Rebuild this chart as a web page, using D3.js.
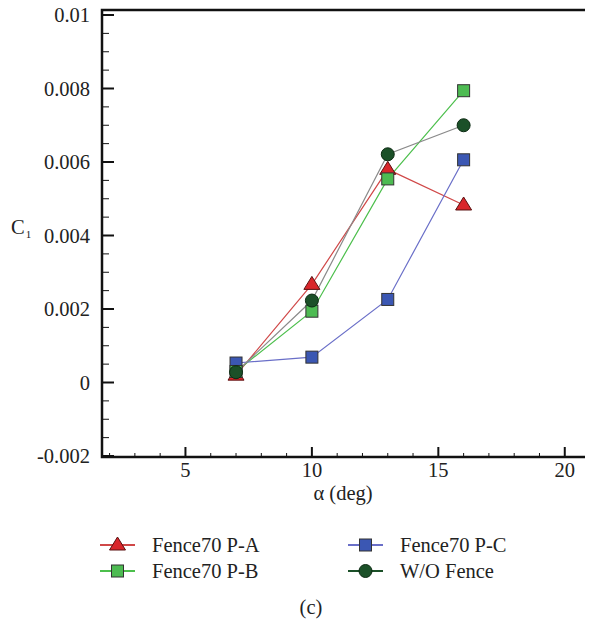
<!DOCTYPE html>
<html><head><meta charset="utf-8">
<script src="https://cdn.jsdelivr.net/npm/d3@7"></script>
<style>body{margin:0;background:#fff}svg{display:block}text{font-family:"Liberation Serif","DejaVu Serif",serif;fill:#222}</style>
</head><body>
<script>
const alpha = [7, 10, 13, 16];
const seriesNames = ["Fence70 P-A", "Fence70 P-B", "Fence70 P-C", "W/O Fence"];
const valuesPA = [0.00020, 0.00267, 0.00580, 0.00483];
const valuesPB = [0.00030, 0.00194, 0.00554, 0.00794];
const valuesPC = [0.00053, 0.00069, 0.00226, 0.00606];
const valuesWO = [0.00028, 0.00223, 0.00621, 0.00700];
const xTicks = [5, 10, 15, 20];
const yTicks = [-0.002, 0, 0.002, 0.004, 0.006, 0.008, 0.01];
const yTickLabels = ["-0.002", "0", "0.002", "0.004", "0.006", "0.008", "0.01"];

const W = 589, H = 625;
const FS = 20.5;
const svg = d3.select("body").append("svg").attr("width", W).attr("height", H);
const x = d3.scaleLinear().domain([1.7, 20.8]).range([102, 585]);
const y = d3.scaleLinear().domain([-0.002, 0.01]).range([456, 15]);

const series = [
  {name: seriesNames[0], vals: valuesPA, line: "#d04848", fill: "#d9262b", shape: "tri"},
  {name: seriesNames[1], vals: valuesPB, line: "#4cbf4c", fill: "#4dbb52", shape: "sq"},
  {name: seriesNames[2], vals: valuesPC, line: "#6a6fc8", fill: "#3b57b3", shape: "sq"},
  {name: seriesNames[3], vals: valuesWO, line: "#8a8a8a", fill: "#1b5028", shape: "circ"}
];

const g = svg.append("g");
const xMinor = d3.range(2, 21, 1);
g.selectAll(".xm").data(xMinor).enter().append("line")
  .attr("x1", d => x(d)).attr("x2", d => x(d))
  .attr("y1", 457).attr("y2", d => d % 5 === 0 ? 447 : 453)
  .attr("stroke", "#111").attr("stroke-width", d => d % 5 === 0 ? 2 : 1);
const yMinor = d3.range(-0.002, 0.01001, 0.0005);
const isMajor = d => Math.abs(Math.round(d / 0.002) * 0.002 - d) < 1e-9;
g.selectAll(".ym").data(yMinor).enter().append("line")
  .attr("x1", 102).attr("x2", d => isMajor(d) ? 114 : 109)
  .attr("y1", d => y(d)).attr("y2", d => y(d))
  .attr("stroke", "#111").attr("stroke-width", d => isMajor(d) ? 2 : 1);

g.append("path").attr("d", `M${W-4},10 H102 V457 H${W-4}`)
  .attr("fill", "none").attr("stroke", "#111").attr("stroke-width", 2.5);

g.selectAll(".xt").data(xTicks).enter().append("text")
  .attr("x", d => x(d)).attr("y", 477).attr("text-anchor", "middle")
  .attr("font-size", FS).text(d => d);
g.selectAll(".yt").data(yTicks).enter().append("text")
  .attr("x", 90).attr("y", d => y(d) + 7).attr("text-anchor", "end")
  .attr("font-size", FS).text((d, i) => yTickLabels[i]);

g.append("text").attr("x", 343).attr("y", 500).attr("text-anchor", "middle")
  .attr("font-size", FS).text("α (deg)");
const cl = g.append("text").attr("x", 11).attr("y", 234).attr("font-size", FS);
cl.append("tspan").text("C");
cl.append("tspan").attr("font-size", 11).attr("dy", 4).attr("dx", 1).text("1");

const line = d3.line().x((d, i) => x(alpha[i])).y(d => y(d));
series.forEach(s => {
  svg.append("path").attr("d", line(s.vals)).attr("fill", "none")
    .attr("stroke", s.line).attr("stroke-width", 1.2);
});

function marker(sel, shape, fill, cx, cy) {
  if (shape === "tri") {
    sel.append("path").attr("d", `M${cx},${cy-8} L${cx+8},${cy+5} L${cx-8},${cy+5} Z`)
      .attr("fill", fill).attr("stroke", "#5a1010").attr("stroke-width", 1);
  } else if (shape === "sq") {
    sel.append("rect").attr("x", cx - 6).attr("y", cy - 6).attr("width", 12).attr("height", 12)
      .attr("fill", fill).attr("stroke", "#333").attr("stroke-width", 1);
  } else {
    sel.append("circle").attr("cx", cx).attr("cy", cy).attr("r", 6.5)
      .attr("fill", fill).attr("stroke", "#0c2a12").attr("stroke-width", 1);
  }
}
const order = [2, 0, 1, 3];
order.forEach(k => {
  const s = series[k];
  s.vals.forEach((v, i) => marker(svg, s.shape, s.fill, x(alpha[i]), y(v)));
});

const leg = [
  {s: series[0], lx: 100, ly: 545},
  {s: series[1], lx: 100, ly: 571},
  {s: series[2], lx: 348, ly: 545},
  {s: series[3], lx: 348, ly: 571}
];
leg.forEach(l => {
  svg.append("line").attr("x1", l.lx).attr("x2", l.lx + 35).attr("y1", l.ly).attr("y2", l.ly)
    .attr("stroke", l.s.line === "#8a8a8a" ? "#1b5028" : l.s.line).attr("stroke-width", 2);
  marker(svg, l.s.shape, l.s.fill, l.lx + 17.5, l.ly);
  svg.append("text").attr("x", l.lx + 52).attr("y", l.ly + 7).attr("font-size", FS).text(l.s.name);
});
svg.append("text").attr("x", 311).attr("y", 614).attr("text-anchor", "middle").attr("font-size", FS).text("(c)");
</script>
</body></html>
